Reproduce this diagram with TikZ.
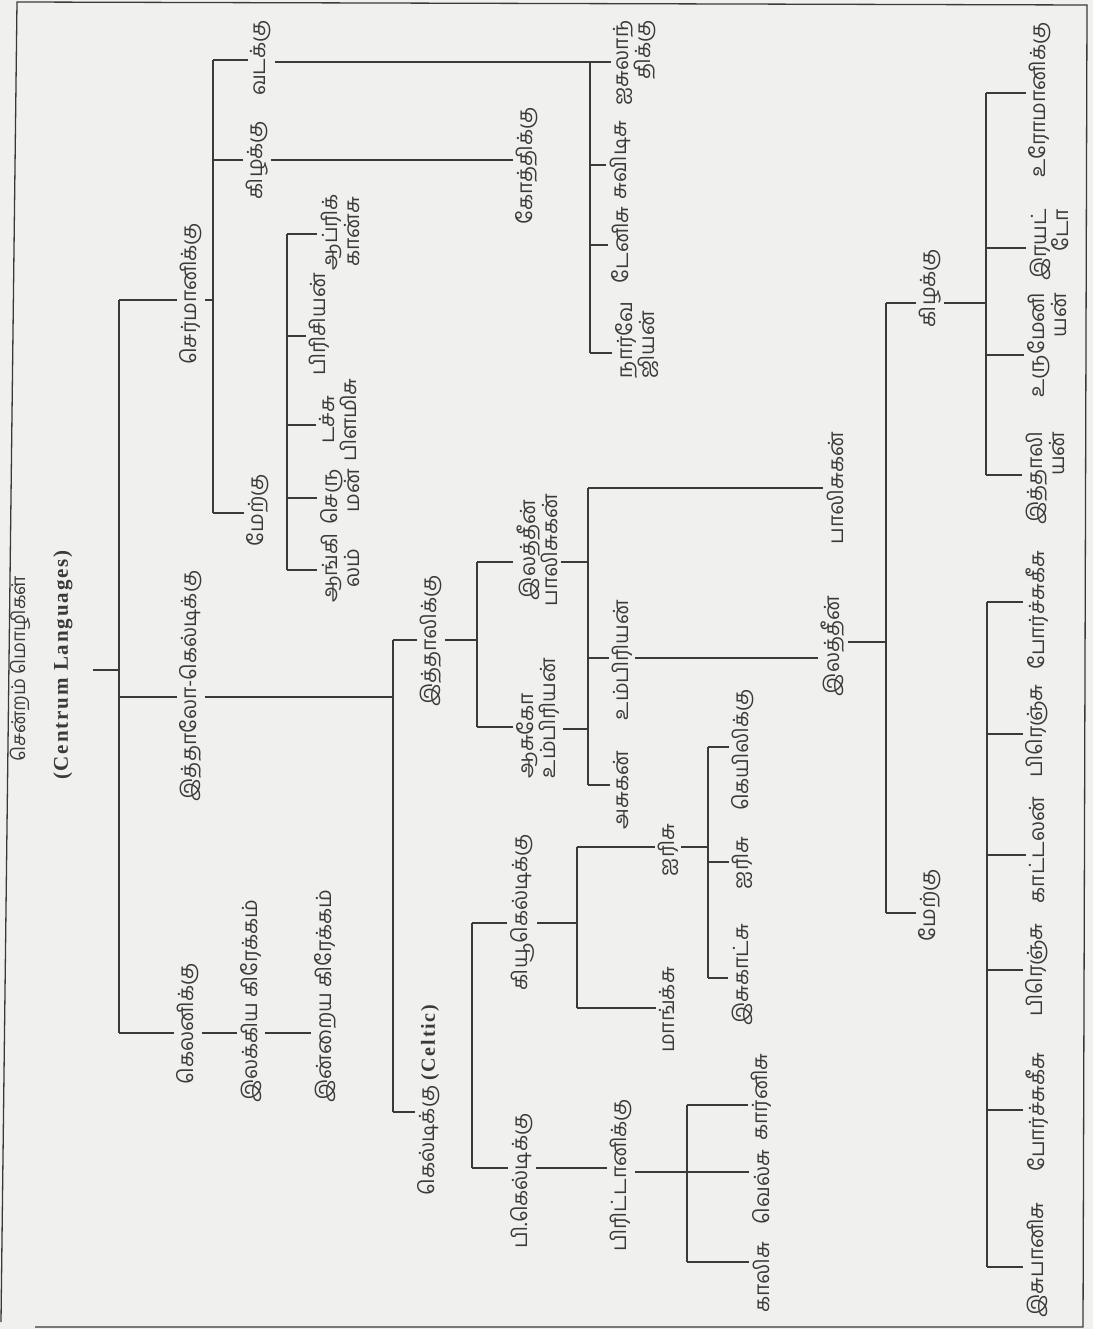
\documentclass[tikz,border=0pt]{standalone}
\usepackage{fontspec}
\setmainfont{Liberation Serif}
\newfontfamily\tam[Script=Tamil]{Hind Madurai}
\newfontfamily\lat[LetterSpace=9]{Liberation Serif}
\definecolor{bgc}{RGB}{240,240,238}
\definecolor{inkc}{RGB}{58,58,58}
\tikzset{
  ln/.style={draw=inkc, line width=1.1pt},
  frame/.style={draw=inkc, line width=1.3pt},
  lbl/.style={rotate=90, inner sep=3pt, text=inkc, font=\tam\fontsize{21pt}{22pt}\selectfont},
  lblc/.style={lbl, align=center},
  lbll/.style={lbl, align=left},
  lblr/.style={lbl, align=right},
  latl/.style={rotate=90, inner sep=3pt, text=inkc, font=\lat\bfseries\fontsize{21pt}{23pt}\selectfont}
}
\begin{document}
\begin{tikzpicture}[x=1pt,y=-1pt]
\fill[bgc] (0,0) rectangle (1093,1329);
\useasboundingbox (0,0) rectangle (1093,1329);
% frame
\draw[frame] (1,1322) -- (17,2) -- (1087,5) -- (1083,1327) -- (35,1327);

% ---------- root ----------
\node[lbl, font=\tam\fontsize{19pt}{21pt}\selectfont] (t1) at (20,669) {சென்றம் மொழிகள்};
\node[latl] (t2) at (63,665) {(Centrum Languages)};
\coordinate (r0) at (93,670);
\coordinate (v1r) at (119,670);
\draw[ln] (r0) -- (v1r);

% ---------- level 1 ----------
\coordinate (v1t) at (119,300);
\coordinate (v1m) at (119,697);
\coordinate (v1b) at (119,1033);
\draw[ln] (v1t) -- (v1b);
\node[lbl] (germ) at (191,294) {செர்மானிக்கு};
\node[lbl] (ic) at (191,686) {இத்தாலோ-கெல்டிக்கு};
\node[lbl] (hel) at (188,1024) {கெலனிக்கு};
\node[lbl] (lit) at (251,1001) {இலக்கிய கிரேக்கம்};
\node[lbl] (mod) at (325,996) {இன்றைய கிரேக்கம்};
\draw[ln] (v1t) -- (germ.north |- v1t);
\draw[ln] (v1m) -- (ic.north |- v1m);
\draw[ln] (v1b) -- (hel.north |- v1b);
\draw[ln] (hel.south |- v1b) -- (lit.north |- v1b);
\draw[ln] (lit.south |- v1b) -- (mod.north |- v1b);

% ---------- Germanic ----------
\coordinate (v2t) at (213,60);
\coordinate (v2e) at (213,160);
\coordinate (v2g) at (213,300);
\coordinate (v2b) at (213,513);
\draw[ln] (v2t) -- (v2b);
\draw[ln] (germ.south |- v2g) -- (v2g);
\node[lbl] (nrt) at (261,58) {வடக்கு};
\node[lbl] (eg) at (257,160) {கிழக்கு};
\node[lbl] (wg) at (258,510) {மேற்கு};
\node[lbl] (goth) at (527,166) {கோத்திக்கு};
\draw[ln] (v2t) -- (nrt.north |- v2t);
\draw[ln] (v2e) -- (eg.north |- v2e);
\draw[ln] (v2b) -- (wg.north |- v2b);
\draw[ln] (eg.south |- v2e) -- (goth.north |- v2e);

% North Germanic
\coordinate (v4t) at (590,62);
\coordinate (v4s) at (590,165);
\coordinate (v4d) at (590,245);
\coordinate (v4b) at (590,353);
\draw[ln] (nrt.south |- v4t) -- (v4t);
\draw[ln] (v4t) -- (v4b);
\node[lblr] (ice) at (635,63) {ஐசுலாந்\\திக்கு};
\node[lbl] (swe) at (620,160) {சுவிடிசு};
\node[lbl] (dan) at (620,245) {டேனிசு};
\node[lbll] (nor) at (637,340) {நார்வே\\ஜியன்};
\draw[ln] (v4t) -- (ice.north |- v4t);
\draw[ln] (v4s) -- (swe.north |- v4s);
\draw[ln] (v4d) -- (dan.north |- v4d);
\draw[ln] (v4b) -- (nor.north |- v4b);

% West Germanic
\coordinate (v5a) at (287,234);
\coordinate (v5b) at (287,336);
\coordinate (v5c) at (287,425);
\coordinate (v5d) at (287,498);
\coordinate (v5e) at (287,570);
\draw[ln] (v5a) -- (v5e);
\node[lblc] (afr) at (340,232) {ஆப்ரிக்\\கான்சு};
\node[lbl] (fri) at (319,324) {பிரிசியன்};
\node[lblc] (dut) at (338,420) {டச்சு\\பிளமிசு};
\node[lblr] (ger) at (340,497) {செரு\\மன்};
\node[lblc] (eng) at (340,568) {ஆங்கி\\லம்};
\draw[ln] (v5a) -- (afr.north |- v5a);
\draw[ln] (v5b) -- (fri.north |- v5b);
\draw[ln] (v5c) -- (dut.north |- v5c);
\draw[ln] (v5d) -- (ger.north |- v5d);
\draw[ln] (v5e) -- (eng.north |- v5e);

% ---------- Italo-Celtic ----------
\coordinate (v3t) at (393,640);
\coordinate (v3i) at (393,697);
\coordinate (v3b) at (393,1112);
\draw[ln] (v3t) -- (v3b);
\draw[ln] (ic.south |- v3i) -- (v3i);
\node[lbl] (ita) at (431,641) {இத்தாலிக்கு};
\node[lbl] (cel) at (429,1100) {கெல்டிக்கு {\lat\bfseries\fontsize{20pt}{22pt}\selectfont (Celtic)}};
\draw[ln] (v3t) -- (ita.north |- v3t);
\draw[ln] (v3b) -- (cel.north |- v3b);

% Italic
\coordinate (v6t) at (477,562);
\coordinate (v6i) at (477,640);
\coordinate (v6b) at (477,727);
\draw[ln] (v6t) -- (v6b);
\draw[ln] (ita.south |- v6i) -- (v6i);
\node[lblc] (lf) at (537,550) {இலத்தீன்\\பாலிசுகன்};
\node[lbll] (ou) at (538,718) {ஆசுகோ\\உம்பிரியன்};
\draw[ln] (v6t) -- (lf.north |- v6t);
\draw[ln] (v6b) -- (ou.north |- v6b);

\coordinate (v7t) at (588,488);
\coordinate (v7l) at (588,562);
\coordinate (v7u) at (588,658);
\coordinate (v7o) at (588,729);
\coordinate (v7b) at (588,785);
\draw[ln] (v7t) -- (v7b);
\draw[ln] (lf.south |- v7l) -- (v7l);
\draw[ln] (ou.south |- v7o) -- (v7o);
\node[lbl] (fal) at (835,488) {பாலிசுகன்};
\node[lbl] (umb) at (622,660) {உம்பிரியன்};
\node[lbl] (lat) at (833,646) {இலத்தீன்};
\node[lbl] (osc) at (621,790) {அசுகன்};
\draw[ln] (v7t) -- (fal.north |- v7t);
\draw[ln] (v7u) -- (umb.north |- v7u);
\draw[ln] (umb.south |- v7u) -- (lat.north |- v7u);
\draw[ln] (v7b) -- (osc.north |- v7b);

% Romance
\coordinate (v8t) at (886,303);
\coordinate (v8l) at (886,642);
\coordinate (v8b) at (886,913);
\draw[ln] (v8t) -- (v8b);
\draw[ln] (lat.south |- v8l) -- (v8l);
\node[lbl] (er) at (930,288) {கிழக்கு};
\node[lbl] (wr) at (930,905) {மேற்கு};
\draw[ln] (v8t) -- (er.north |- v8t);
\draw[ln] (v8b) -- (wr.north |- v8b);

% East Romance
\coordinate (v9a) at (986,93);
\coordinate (v9b) at (986,248);
\coordinate (v9e) at (986,303);
\coordinate (v9c) at (986,355);
\coordinate (v9d) at (986,475);
\draw[ln] (v9a) -- (v9d);
\draw[ln] (er.south |- v9e) -- (v9e);
\node[lbl] (rom) at (1040,100) {உரோமானிக்கு};
\node[lblr] (rha) at (1049,245) {இரயட்\\டோ};
\node[lblr] (rum) at (1047,345) {உருமேனி\\யன்};
\node[lblr] (itn) at (1045,478) {இத்தாலி\\யன்};
\draw[ln] (v9a) -- (rom.north |- v9a);
\draw[ln] (v9b) -- (rha.north |- v9b);
\draw[ln] (v9c) -- (rum.north |- v9c);
\draw[ln] (v9d) -- (itn.north |- v9d);

% West Romance
\coordinate (w1) at (987,602);
\coordinate (w2) at (987,734);
\coordinate (w3) at (987,855);
\coordinate (w4) at (987,970);
\coordinate (w5) at (987,1110);
\coordinate (w6) at (987,1267);
\draw[ln] (w1) -- (w6);
\node[lbl] (por1) at (1037,610) {போர்ச்சுகீசு};
\node[lbl] (fre1) at (1037,731) {பிரெஞ்சு};
\node[lbl] (cat) at (1037,850) {காட்டலன்};
\node[lbl] (fre2) at (1037,970) {பிரெஞ்சு};
\node[lbl] (por2) at (1037,1112) {போர்ச்சுகீசு};
\node[lbl] (spa) at (1037,1260) {இசுபானிசு};
\draw[ln] (w1) -- (por1.north |- w1);
\draw[ln] (w2) -- (fre1.north |- w2);
\draw[ln] (w3) -- (cat.north |- w3);
\draw[ln] (w4) -- (fre2.north |- w4);
\draw[ln] (w5) -- (por2.north |- w5);
\draw[ln] (w6) -- (spa.north |- w6);

% ---------- Celtic ----------
\coordinate (v11t) at (472,923);
\coordinate (v11b) at (472,1168);
\draw[ln] (v11t) -- (v11b);
\node[lbl] (qc) at (522,912) {கியூகெல்டிக்கு};
\node[lbl] (pc) at (522,1181) {பி.கெல்டிக்கு};
\draw[ln] (v11t) -- (qc.north |- v11t);
\draw[ln] (v11b) -- (pc.north |- v11b);

\coordinate (v12t) at (577,847);
\coordinate (v12q) at (577,923);
\coordinate (v12b) at (577,1008);
\draw[ln] (v12t) -- (v12b);
\draw[ln] (qc.south |- v12q) -- (v12q);
\node[lbl] (iri) at (668,850) {ஐரிசு};
\node[lbl] (manx) at (667,1010) {மாங்க்சு};
\draw[ln] (v12t) -- (iri.north |- v12t);
\draw[ln] (v12b) -- (manx.north |- v12b);

\coordinate (v14t) at (708,747);
\coordinate (v14m) at (708,847);
\coordinate (v14c) at (708,862);
\coordinate (v14b) at (708,978);
\draw[ln] (v14t) -- (v14b);
\draw[ln] (iri.south |- v14m) -- (v14m);
\node[lbl] (gae) at (743,750) {கெயிலிக்கு};
\node[lbl] (iri2) at (742,863) {ஐரிசு};
\node[lbl] (sco) at (742,975) {இசுகாட்சு};
\draw[ln] (v14t) -- (gae.north |- v14t);
\draw[ln] (v14c) -- (iri2.north |- v14c);
\draw[ln] (v14b) -- (sco.north |- v14b);

\node[lbl] (brit) at (621,1175) {பிரிட்டானிக்கு};
\coordinate (v13t) at (687,1105);
\coordinate (v13m) at (687,1172);
\coordinate (v13b) at (687,1262);
\draw[ln] (v13t) -- (v13b);
\draw[ln] (pc.south |- v11b) -- (brit.north |- v11b);
\node[lbl] (cor) at (761,1097) {கார்னிசு};
\node[lbl] (wel) at (761,1187) {வெல்சு};
\node[lbl] (gau) at (761,1277) {காலிசு};
\draw[ln] (brit.south |- v13m) -- (wel.north |- v13m);
\draw[ln] (v13t) -- (cor.north |- v13t);
\draw[ln] (v13b) -- (gau.north |- v13b);
\end{tikzpicture}
\end{document}
